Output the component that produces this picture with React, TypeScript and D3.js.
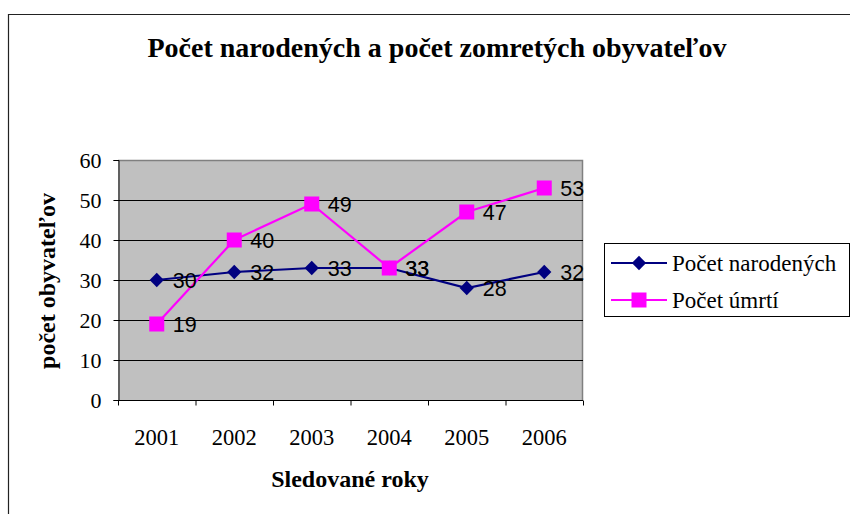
import { useRef, useEffect } from 'react'
import * as d3 from 'd3'

const years = ['2001', '2002', '2003', '2004', '2005', '2006']
const births = [30, 32, 33, 33, 28, 32]
const deaths = [19, 40, 49, 33, 47, 53]
const yTicks = [0, 10, 20, 30, 40, 50, 60]

const seriesNames = ['Počet narodených', 'Počet úmrtí']
const NAVY = '#000080'
const MAGENTA = '#ff00ff'
const SERIF = '"Liberation Serif", "Times New Roman", serif'
const SANS = '"Liberation Sans", Arial, sans-serif'

export default function App() {
  const svgRef = useRef<SVGSVGElement>(null)

  useEffect(() => {
    if (!svgRef.current) return
    const svg = d3.select(svgRef.current)
    svg.selectAll('*').remove()

    const width = 850
    const height = 514
    const plot = { left: 118, right: 583, top: 160, bottom: 400 }

    svg.attr('width', width).attr('height', height)

    svg.append('rect')
      .attr('width', width).attr('height', height).attr('fill', '#fff')

    // outer frame (cropped at right/bottom)
    svg.append('path')
      .attr('d', `M8.5,${height + 2} V14.5 H${width + 2}`)
      .attr('fill', 'none')
      .attr('stroke', '#222')
      .attr('stroke-width', 1.2)

    // title
    svg.append('text')
      .attr('x', 437).attr('y', 57)
      .attr('text-anchor', 'middle')
      .attr('font-family', SERIF).attr('font-weight', 'bold').attr('font-size', '28px')
      .text('Počet narodených a počet zomretých obyvateľov')

    const x = d3.scaleBand().domain(years).range([plot.left, plot.right])
    const y = d3.scaleLinear().domain([0, 60]).range([plot.bottom, plot.top])
    const cx = (d: string) => (x(d) ?? 0) + x.bandwidth() / 2

    // plot background
    svg.append('rect')
      .attr('x', plot.left).attr('y', plot.top)
      .attr('width', plot.right - plot.left).attr('height', plot.bottom - plot.top)
      .attr('fill', '#c0c0c0')
    svg.append('path')
      .attr('d', `M${plot.left},${plot.top + 0.5} H${plot.right - 0.5} V${plot.bottom}`)
      .attr('fill', 'none').attr('stroke', '#808080').attr('stroke-width', 1.5)

    // grid lines
    svg.selectAll('.grid')
      .data(yTicks.filter((t) => t > 0 && t < 60))
      .enter().append('line')
      .attr('x1', plot.left).attr('x2', plot.right)
      .attr('y1', (d) => y(d) + 0.5).attr('y2', (d) => y(d) + 0.5)
      .attr('stroke', '#000').attr('stroke-width', 1)

    // y axis
    const yAxis = svg.append('g')
      .attr('transform', `translate(${plot.left + 0.5},0)`)
      .call(d3.axisLeft(y).tickValues(yTicks).tickSize(5).tickPadding(12))
    yAxis.select('.domain').attr('stroke', '#000')
    yAxis.selectAll('line').attr('stroke', '#000')
    yAxis.selectAll('text')
      .attr('font-family', SERIF).attr('font-size', '22px').attr('fill', '#000')

    // x axis: ticks at category boundaries
    const xa = svg.append('g').attr('transform', `translate(0,${plot.bottom + 0.5})`)
    xa.append('line')
      .attr('x1', plot.left).attr('x2', plot.right).attr('stroke', '#000')
    const bounds = years.map((d) => x(d) ?? 0).concat([plot.right])
    xa.selectAll('.tick')
      .data(bounds)
      .enter().append('line')
      .attr('x1', (d) => d + 0.5).attr('x2', (d) => d + 0.5)
      .attr('y1', 0).attr('y2', 5)
      .attr('stroke', '#000')
    xa.selectAll('.lbl')
      .data(years)
      .enter().append('text')
      .attr('x', (d) => cx(d)).attr('y', 44.5)
      .attr('text-anchor', 'middle')
      .attr('font-family', SERIF).attr('font-size', '22.5px')
      .text((d) => d)

    // axis titles
    svg.append('text')
      .attr('transform', 'translate(55,281) rotate(-90)')
      .attr('text-anchor', 'middle')
      .attr('font-family', SERIF).attr('font-weight', 'bold').attr('font-size', '24px')
      .text('počet obyvateľov')
    svg.append('text')
      .attr('x', 350).attr('y', 487)
      .attr('text-anchor', 'middle')
      .attr('font-family', SERIF).attr('font-weight', 'bold').attr('font-size', '24px')
      .text('Sledované roky')

    const line = d3.line<number>()
      .x((_, i) => cx(years[i]))
      .y((d) => y(d))

    const diamond = d3.symbol().type(d3.symbolDiamond2).size(130)
    const square = d3.symbol().type(d3.symbolSquare).size(225)

    const drawSeries = (values: number[], color: string, marker: d3.Symbol<unknown, unknown>) => {
      svg.append('path')
        .datum(values)
        .attr('fill', 'none').attr('stroke', color).attr('stroke-width', 2.2)
        .attr('d', line)
      values.forEach((v, i) => {
        svg.append('path')
          .attr('d', marker() as string)
          .attr('transform', `translate(${cx(years[i])},${y(v)})`)
          .attr('fill', color)
      })
    }

    drawSeries(births, NAVY, diamond)
    drawSeries(deaths, MAGENTA, square)

    // data labels
    const drawLabels = (values: number[]) => {
      values.forEach((v, i) => {
        svg.append('text')
          .attr('x', cx(years[i]) + 16).attr('y', y(v) + 8)
          .attr('font-family', SANS).attr('font-size', '21.5px').attr('fill', '#000')
          .text(v)
      })
    }
    drawLabels(births)
    drawLabels(deaths)

    // legend
    const lg = svg.append('g')
    lg.append('rect')
      .attr('x', 604.5).attr('y', 243.5).attr('width', 245).attr('height', 73)
      .attr('fill', '#fff').attr('stroke', '#000').attr('stroke-width', 1)
    const items = [
      { name: seriesNames[0], color: NAVY, marker: diamond, y: 263 },
      { name: seriesNames[1], color: MAGENTA, marker: square, y: 300 },
    ]
    items.forEach((it) => {
      lg.append('line')
        .attr('x1', 611).attr('x2', 667).attr('y1', it.y).attr('y2', it.y)
        .attr('stroke', it.color).attr('stroke-width', 2.2)
      lg.append('path')
        .attr('d', it.marker() as string)
        .attr('transform', `translate(639,${it.y})`)
        .attr('fill', it.color)
      lg.append('text')
        .attr('x', 672).attr('y', it.y + 8)
        .attr('font-family', SERIF).attr('font-size', '23px')
        .text(it.name)
    })
  }, [])

  return (
    <svg ref={svgRef} style={{ position: 'absolute', left: 0, top: 0, display: 'block' }} />
  )
}
